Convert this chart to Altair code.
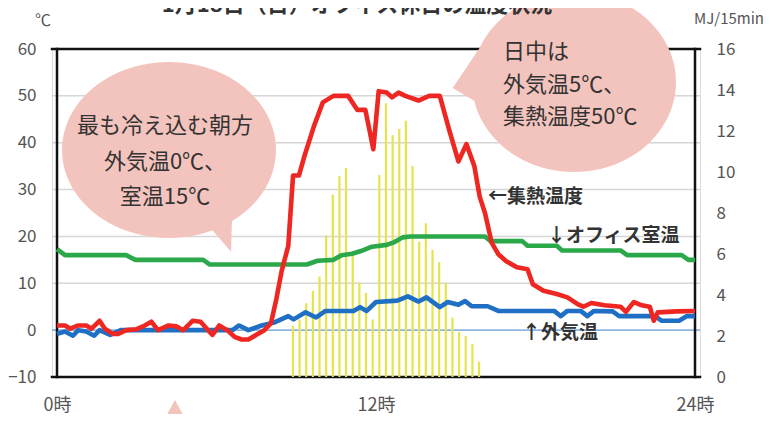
import math
import altair as alt
import pandas as pd

# ---------------- data ----------------
# 集熱温度 (collector temperature, °C)
red_h = [0, 0.3, 0.5, 0.8, 1.1, 1.3, 1.6, 1.8, 2.1, 2.3, 2.6, 3.0, 3.3, 3.55, 3.8, 4.2, 4.5,
         4.75, 5.1, 5.4, 5.6, 5.85, 6.1, 6.4, 6.7, 6.95, 7.2, 7.5, 7.8, 8.05, 8.25, 8.45,
         8.7, 8.88, 9.1, 9.3, 9.67, 10.0, 10.4, 10.95, 11.3, 11.6, 11.9, 12.1, 12.4, 12.6,
         12.85, 13.1, 13.6, 14.0, 14.4, 14.75, 15.1, 15.4, 15.7, 15.9, 16.1, 16.35, 16.6,
         16.9, 17.3, 17.7, 17.9, 18.3, 18.8, 19.2, 19.6, 19.8, 20.1, 20.6, 21.2, 21.4, 21.7,
         22.0, 22.3, 22.45, 22.6, 23.3, 24.0]
red_t = [1, 1, 0.3, 1, 1, 0.3, 2, 0.3, -0.8, -0.8, 0, 0.2, 1, 1.8, 0, 1, 0.8,
         0, 2, 1.8, 0.5, -1, 1, 0, -1.5, -2, -2, -1, 0, 1.5, 6.6, 12.6,
         18, 33, 33, 37, 43.6, 48.6, 50, 50, 47, 47, 38.6, 51, 50.7, 49.7,
         50.7, 50, 49, 50, 50, 42.8, 36, 39.7, 35, 28.5, 25, 18.7, 16.2,
         14.7, 13.4, 13, 9.8, 8.4, 7.7, 7, 5.5, 5, 5.8, 5.3, 5, 3.9, 6,
         5.3, 5, 2, 3.8, 4, 4.1]

# オフィス室温 (office room temperature, °C)
green_h = [0, 0.3, 2.6, 2.95, 5.5, 5.75, 9.4, 9.8, 10.4, 10.7, 11.1, 11.5, 11.85, 12.4,
           12.7, 13.0, 13.3, 16.1, 16.3, 17.5, 17.7, 18.8, 19.0, 21.2, 21.45, 23.5, 23.75, 24]
green_t = [17.3, 16, 16, 15, 15, 14, 14, 14.8, 15, 16, 16.3, 17, 17.8, 18.2,
           18.8, 19.8, 20, 20, 19, 19, 18, 18, 17, 17, 16, 16, 15, 15]

# 外気温 (outdoor temperature, °C)
blue_h = [0, 0.3, 0.6, 0.8, 1.1, 1.4, 1.6, 2.0, 2.4, 6.6, 6.85, 7.2, 7.7, 8.2, 8.7, 8.9,
          9.35, 9.75, 10.1, 11.15, 11.4, 11.65, 12.0, 12.8, 13.2, 13.6, 13.9, 14.4, 14.7,
          15.1, 15.35, 15.6, 16.2, 16.6, 18.7, 18.95, 19.2, 19.7, 19.95, 20.2, 20.9, 21.15,
          22.5, 22.75, 23.4, 23.7, 24]
blue_t = [-0.8, -0.3, -1.2, 0, -0.3, -1.2, 0, -1, 0, 0, 1, 0, 1, 1.7, 3, 2.3,
          3.8, 2.7, 4.1, 4.1, 4.9, 4.1, 6, 6.3, 7.2, 6.1, 7, 4.9, 6,
          5.4, 6.2, 5.1, 5.1, 4.1, 4.1, 3, 4.1, 4.1, 3, 4.1, 4, 3,
          3, 2, 2, 3, 3]

# 日射量 (solar radiation, MJ/15min)
bar_h = [8.875, 9.125, 9.375, 9.625, 9.875, 10.125, 10.375, 10.625, 10.875, 11.125,
         11.375, 11.625, 11.875, 12.125, 12.375, 12.625, 12.875, 13.125, 13.375, 13.625,
         13.875, 14.125, 14.375, 14.625, 14.875, 15.125, 15.375, 15.625, 15.875]
bar_v = [2.5, 2.8, 3.6, 4.2, 4.9, 6.9, 8.9, 9.8, 10.2, 5.95,
         4.6, 4.1, 2.8, 9.85, 13.35, 11.8, 12.1, 12.5, 10.3, 6.6,
         7.5, 6.2, 5.6, 4.6, 2.9, 2.2, 2.0, 1.6, 0.75]

left_ticks = [-10, 0, 10, 20, 30, 40, 50, 60]
right_ticks = [0, 2, 4, 6, 8, 10, 12, 14, 16]
x_ticks = [0, 12, 24]
grid_vals = [10, 20, 30, 40, 50]
zero_val = [0]
frame_y = [-10, 60]
frame_x = [0, 24]

title_text = "1月18日（日）オフィス休日の温度状況"
left_note = ["最も冷え込む朝方", "外気温0℃、", "室温15℃"]
right_note = ["日中は", "外気温5℃、", "集熱温度50℃"]

# ---------------- chart ----------------
W, H = 648, 328
FONT = "Noto Sans CJK JP"
LBL = "#555555"

x_axis = alt.Axis(values=x_ticks, labelExpr="datum.value + '時'", grid=False, domain=False,
                  ticks=False, tickSize=0, labelPadding=19, labelFontSize=18,
                  labelColor=LBL, labelFont=FONT, title=None)
X = lambda f: alt.X(f, type="quantitative", scale=alt.Scale(domain=[0, 24], nice=False), axis=x_axis)
yscale_l = alt.Scale(domain=[-10, 60], nice=False, zero=False)

left_axis = alt.Axis(values=left_ticks, grid=False, domain=False, ticks=False, tickSize=0,
                     labelPadding=16, labelFontSize=17, labelColor=LBL, labelFont=FONT,
                     title=None, orient="left")
right_axis = alt.Axis(values=right_ticks, grid=False, domain=False, ticks=False, tickSize=0,
                      labelPadding=16, labelFontSize=17, labelColor=LBL, labelFont=FONT,
                      title=None, orient="right")

grid = alt.Chart(pd.DataFrame({"v": grid_vals})).mark_rule(color="#d6d6d6", strokeWidth=1.5).encode(
    y=alt.Y("v:Q", scale=yscale_l, axis=left_axis))
zero = alt.Chart(pd.DataFrame({"v": zero_val})).mark_rule(color="#8fb6e3", strokeWidth=1.8).encode(
    y=alt.Y("v:Q", scale=yscale_l, axis=left_axis))
frame_h = alt.Chart(pd.DataFrame({"v": frame_y})).mark_rule(
    color="#111111", strokeWidth=2.5, strokeCap="square").encode(
    y=alt.Y("v:Q", scale=yscale_l, axis=left_axis))
frame_v = alt.Chart(pd.DataFrame({"h": frame_x})).mark_rule(
    color="#111111", strokeWidth=2.5, strokeCap="square").encode(x=X("h"))
grid_group = alt.layer(grid, zero, frame_h, frame_v)

dummy = pd.DataFrame({"a": [0]})

bars = alt.Chart(pd.DataFrame({"h": bar_h, "v": bar_v})).mark_bar(
    width=2.2, color="#e6e44a").encode(
    x=X("h"),
    y=alt.Y("v:Q", scale=alt.Scale(domain=[0, 16], nice=False), axis=right_axis))


def line(hs, ts, color):
    return alt.Chart(pd.DataFrame({"h": hs, "t": ts})).mark_line(
        color=color, strokeWidth=4.6, strokeJoin="round").encode(
        x=X("h"), y=alt.Y("t:Q", scale=yscale_l, axis=None))


lines_group = alt.layer(
    line(green_h, green_t, "#2aa84a"),
    line(blue_h, blue_t, "#1f6fc5"),
    line(red_h, red_t, "#ee2722"),
)


def bubble_path(ratio, a1, a2, tip, n=96):
    def pt(a):
        r = math.radians(a)
        return (math.cos(r), ratio * math.sin(r))
    pts, done = [], False
    for i in range(n):
        d = 360.0 * i / n
        if a1 <= d <= a2:
            if not done:
                pts += [pt(a1), tip, pt(a2)]
                done = True
            continue
        pts.append(pt(d))
    return "M" + " L".join(f"{x:.4f},{y:.4f}" for x, y in pts) + " Z"


PINK = "#f3c4bd"
left_bubble = alt.Chart(dummy).mark_point(
    shape=bubble_path(88 / 107, 54, 66, (0.58, 0.95)), size=214 ** 2, filled=True,
    fill=PINK, opacity=1, strokeWidth=0).encode(x=alt.value(117), y=alt.value(101))
right_bubble = alt.Chart(dummy).mark_point(
    shape=bubble_path(90 / 102, 168, 202, (-1.19, 0.06)), size=204 ** 2, filled=True,
    fill=PINK, opacity=1, strokeWidth=0).encode(x=alt.value(522), y=alt.value(33))
bottom_tail = alt.Chart(dummy).mark_point(
    shape="M0,-1 L-1.1,1 L1.1,1 Z", size=24 ** 2, filled=True,
    fill=PINK, opacity=1, strokeWidth=0).encode(x=alt.value(123), y=alt.value(363))


def txt(text, x, y, size, align="center", weight="normal", color="#333333", lh=None):
    kw = dict(text=text, fontSize=size, align=align, baseline="middle", font=FONT,
              fontWeight=weight, color=color)
    if lh:
        kw["lineHeight"] = lh
    return alt.Chart(dummy).mark_text(**kw).encode(x=alt.value(x), y=alt.value(y))


texts = [
    txt(left_note, 113, 77, 22, lh=35.5),
    txt(right_note, 451, 3, 22, align="left", lh=32.5),
    txt("←集熱温度", 436, 148, 19, align="left", weight="bold"),
    txt("↓オフィス室温", 495, 187, 19, align="left", weight="bold"),
    txt("↑外気温", 470, 284, 19, align="left", weight="bold"),
    txt(title_text, 305, -44, 22, weight="bold"),
    txt("℃", -9, -28, 16, color=LBL),
    txt("MJ/15min", 677, -30, 15, color=LBL),
]

chart = alt.layer(
    grid_group, bars, lines_group, left_bubble, right_bubble, bottom_tail, *texts
).resolve_scale(y="independent").properties(
    width=W, height=H,
    autosize=alt.AutoSizeParams(type="none"),
    padding={"left": 44, "top": 41, "right": 70, "bottom": 37},
).configure_view(stroke=None).configure(background="white")

chart.save("out.html", embed_options={"renderer": "svg", "actions": False})
